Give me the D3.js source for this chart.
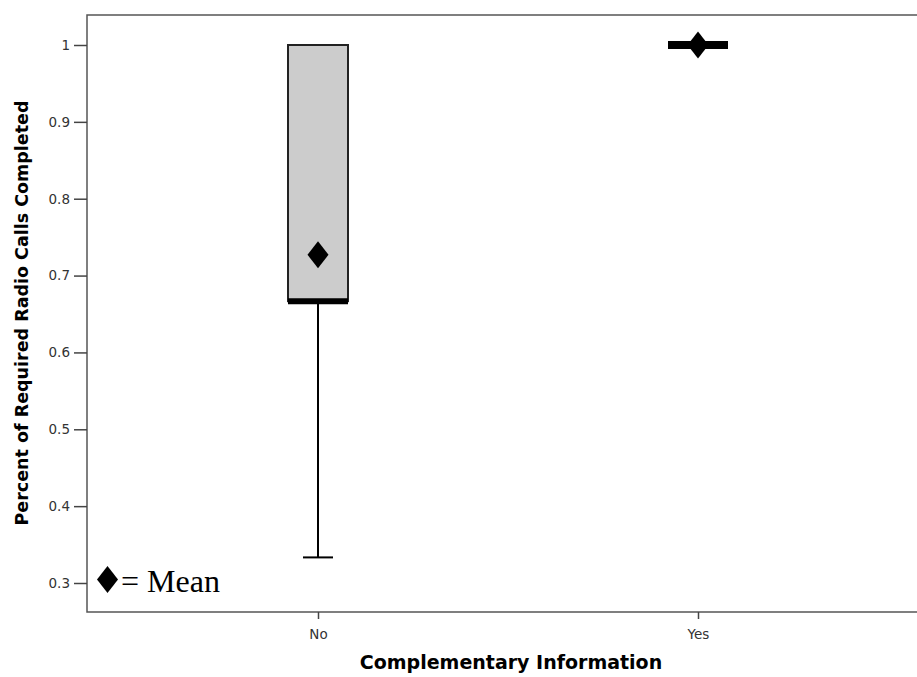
<!DOCTYPE html>
<html><head><meta charset="utf-8">
<script src="https://cdn.jsdelivr.net/npm/d3@7/dist/d3.min.js"></script>
<style>body{margin:0;background:#fff}svg{display:block}</style>
</head><body>
<script>
const categories = ["No", "Yes"];
const q1 = [0.6667, 1.0];
const median = [0.6667, 1.0];
const q3 = [1.0, 1.0];
const whiskerLow = [0.3333, 1.0];
const whiskerHigh = [1.0, 1.0];
const means = [0.727, 1.0];
const yTicks = [0.3, 0.4, 0.5, 0.6, 0.7, 0.8, 0.9, 1];

const W = 917, H = 677;
const m = {left: 87, top: 15, right: 1120, bottom: 612};
const sans = "DejaVu Sans, Verdana, sans-serif";
const svg = d3.select("body").append("svg").attr("width", W).attr("height", H);

const y = d3.scaleLinear().domain([0.3, 1]).range([583, 45]);
const x = d3.scalePoint().domain(categories).range([318, 698]);

// frame
svg.append("rect").attr("x", m.left).attr("y", m.top).attr("width", m.right - m.left).attr("height", m.bottom - m.top)
  .attr("fill", "none").attr("stroke", "#555").attr("stroke-width", 1.5);

// y axis
const ya = svg.append("g").attr("transform", `translate(${m.left},0)`)
  .call(d3.axisLeft(y).tickValues(yTicks).tickFormat(d => d === 1 ? "1" : d3.format(".1f")(d)).tickSize(13).tickPadding(4));
ya.select(".domain").remove();
ya.selectAll("line").attr("stroke", "#444").attr("stroke-width", 1.5);
ya.selectAll("text").attr("font-family", sans).attr("font-size", 13.5).attr("fill", "#333");

// x axis
const xa = svg.append("g").attr("transform", `translate(0,${m.bottom})`)
  .call(d3.axisBottom(x).tickSize(7).tickPadding(10));
xa.select(".domain").remove();
xa.selectAll("line").attr("stroke", "#444").attr("stroke-width", 1.5);
xa.selectAll("text").attr("font-family", sans).attr("font-size", 13.5).attr("fill", "#333");

const bw = 60, cap = 30;
categories.forEach((c, i) => {
  const cx = x(c);
  const g = svg.append("g");
  if (whiskerLow[i] < q1[i]) {
    g.append("line").attr("x1", cx).attr("x2", cx).attr("y1", y(q1[i])).attr("y2", y(whiskerLow[i])).attr("stroke", "#000").attr("stroke-width", 2);
    g.append("line").attr("x1", cx - cap/2).attr("x2", cx + cap/2).attr("y1", y(whiskerLow[i])).attr("y2", y(whiskerLow[i])).attr("stroke", "#000").attr("stroke-width", 2);
  }
  if (q3[i] > q1[i]) {
    g.append("rect").attr("x", cx - bw/2).attr("y", y(q3[i])).attr("width", bw).attr("height", y(q1[i]) - y(q3[i]))
      .attr("fill", "#cccccc").attr("stroke", "#222").attr("stroke-width", 2);
    g.append("line").attr("x1", cx - bw/2).attr("x2", cx + bw/2).attr("y1", y(median[i])).attr("y2", y(median[i])).attr("stroke", "#000").attr("stroke-width", 6);
  } else {
    g.append("line").attr("x1", cx - bw/2).attr("x2", cx + bw/2).attr("y1", y(median[i])).attr("y2", y(median[i])).attr("stroke", "#000").attr("stroke-width", 8);
  }
  const my = y(means[i]);
  g.append("path").attr("d", `M${cx},${my-13.5}L${cx+10.5},${my}L${cx},${my+13.5}L${cx-10.5},${my}Z`).attr("fill", "#000");
});

// legend
const lx = 107.5, ly = 579.5;
svg.append("path").attr("d", `M${lx},${ly-13.5}L${lx+10.5},${ly}L${lx},${ly+13.5}L${lx-10.5},${ly}Z`).attr("fill", "#000");
svg.append("text").attr("x", 121).attr("y", 592).attr("font-family", "Liberation Serif, Times New Roman, serif").attr("font-size", 32).text("= Mean");

// axis titles
svg.append("text").attr("transform", `translate(28,313) rotate(-90)`).attr("text-anchor", "middle")
  .attr("font-family", sans).attr("font-weight", "bold").attr("font-size", 17.5).text("Percent of Required Radio Calls Completed");
svg.append("text").attr("x", 511).attr("y", 669).attr("text-anchor", "middle")
  .attr("font-family", sans).attr("font-weight", "bold").attr("font-size", 19).text("Complementary Information");
</script>
</body></html>
